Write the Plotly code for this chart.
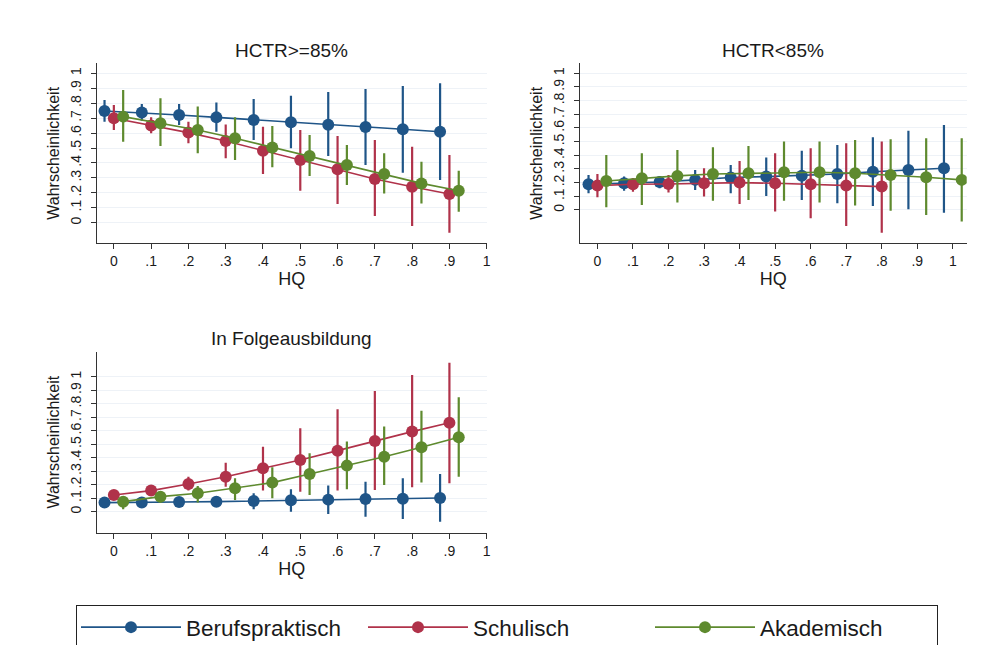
import plotly.graph_objects as go

series_names = ["Berufspraktisch", "Schulisch", "Akademisch"]
colors = ["#1f5588", "#b0324a", "#5e8a2e"]
dodge = [-0.025, 0.0, 0.025]

panel_titles = ["HCTR>=85%", "HCTR<85%", "In Folgeausbildung"]

y_tickvals = [0, .1, .2, .3, .4, .5, .6, .7, .8, .9, 1]
y_ticktext = ["0", ".1", ".2", ".3", ".4", ".5", ".6", ".7", ".8", ".9", "1"]
x_tickvals = [0, .1, .2, .3, .4, .5, .6, .7, .8, .9, 1]
x_ticktext = ["0", ".1", ".2", ".3", ".4", ".5", ".6", ".7", ".8", ".9", "1"]

hq10 = [0, .1, .2, .3, .4, .5, .6, .7, .8, .9]
hq11 = [0, .1, .2, .3, .4, .5, .6, .7, .8, .9, 1.0]
hq9 = [0, .1, .2, .3, .4, .5, .6, .7, .8]

# Panel 1: HCTR>=85%
p1_beruf_y = [0.748, 0.737, 0.721, 0.705, 0.688, 0.672, 0.656, 0.641, 0.625, 0.609]
p1_beruf_lo = [0.676, 0.683, 0.654, 0.609, 0.554, 0.498, 0.446, 0.386, 0.335, 0.286]
p1_beruf_hi = [0.821, 0.795, 0.795, 0.804, 0.828, 0.850, 0.875, 0.895, 0.915, 0.933]
p1_schul_y = [0.699, 0.650, 0.603, 0.547, 0.482, 0.420, 0.357, 0.292, 0.241, 0.192]
p1_schul_lo = [0.621, 0.598, 0.531, 0.431, 0.326, 0.214, 0.125, 0.045, -0.022, -0.067]
p1_schul_hi = [0.788, 0.705, 0.676, 0.658, 0.643, 0.621, 0.580, 0.554, 0.509, 0.453]
p1_akad_y = [0.710, 0.665, 0.621, 0.565, 0.504, 0.446, 0.386, 0.326, 0.263, 0.214]
p1_akad_lo = [0.542, 0.513, 0.464, 0.420, 0.371, 0.313, 0.252, 0.196, 0.129, 0.074]
p1_akad_hi = [0.888, 0.833, 0.777, 0.705, 0.647, 0.587, 0.520, 0.464, 0.408, 0.348]

# Panel 2: HCTR<85%
p2_beruf_y = [0.188, 0.195, 0.205, 0.220, 0.237, 0.244, 0.251, 0.263, 0.280, 0.293, 0.305]
p2_beruf_lo = [0.122, 0.141, 0.159, 0.146, 0.122, 0.102, 0.073, 0.049, 0.029, 0.005, -0.020]
p2_beruf_hi = [0.256, 0.244, 0.249, 0.293, 0.329, 0.383, 0.434, 0.476, 0.532, 0.580, 0.622]
p2_schul_y = [0.178, 0.188, 0.190, 0.195, 0.200, 0.195, 0.188, 0.178, 0.171]
p2_schul_lo = [0.093, 0.134, 0.127, 0.098, 0.044, -0.012, -0.061, -0.117, -0.166]
p2_schul_hi = [0.263, 0.232, 0.256, 0.305, 0.359, 0.415, 0.451, 0.488, 0.500]
p2_akad_y = [0.212, 0.232, 0.249, 0.263, 0.268, 0.276, 0.276, 0.268, 0.256, 0.239, 0.220]
p2_akad_lo = [0.020, 0.037, 0.054, 0.068, 0.073, 0.068, 0.054, 0.032, -0.005, -0.037, -0.085]
p2_akad_hi = [0.402, 0.415, 0.439, 0.459, 0.468, 0.500, 0.500, 0.512, 0.517, 0.524, 0.524]

# Panel 3: In Folgeausbildung
p3_beruf_y = [0.067, 0.067, 0.072, 0.074, 0.079, 0.084, 0.089, 0.094, 0.096, 0.101]
p3_beruf_lo = [0.037, 0.044, 0.042, 0.037, 0.017, 0.000, -0.017, -0.037, -0.054, -0.074]
p3_beruf_hi = [0.099, 0.094, 0.099, 0.111, 0.136, 0.165, 0.193, 0.222, 0.247, 0.279]
p3_schul_y = [0.123, 0.156, 0.205, 0.259, 0.321, 0.383, 0.452, 0.523, 0.593, 0.659]
p3_schul_lo = [0.091, 0.119, 0.156, 0.185, 0.156, 0.148, 0.156, 0.160, 0.180, 0.210]
p3_schul_hi = [0.148, 0.190, 0.259, 0.363, 0.481, 0.617, 0.758, 0.894, 1.012, 1.104]
p3_akad_y = [0.074, 0.111, 0.136, 0.173, 0.215, 0.279, 0.341, 0.407, 0.477, 0.551]
p3_akad_lo = [0.017, 0.067, 0.067, 0.086, 0.099, 0.123, 0.165, 0.198, 0.215, 0.259]
p3_akad_hi = [0.099, 0.148, 0.190, 0.247, 0.328, 0.432, 0.519, 0.630, 0.748, 0.847]

panels = [
    [(hq10, p1_beruf_y, p1_beruf_lo, p1_beruf_hi),
     (hq10, p1_schul_y, p1_schul_lo, p1_schul_hi),
     (hq10, p1_akad_y, p1_akad_lo, p1_akad_hi)],
    [(hq11, p2_beruf_y, p2_beruf_lo, p2_beruf_hi),
     (hq9, p2_schul_y, p2_schul_lo, p2_schul_hi),
     (hq11, p2_akad_y, p2_akad_lo, p2_akad_hi)],
    [(hq10, p3_beruf_y, p3_beruf_lo, p3_beruf_hi),
     (hq10, p3_schul_y, p3_schul_lo, p3_schul_hi),
     (hq10, p3_akad_y, p3_akad_lo, p3_akad_hi)],
]

W, H = 988, 645
FONT = "Liberation Sans, Arial, sans-serif"
TXT = "#1a1a1a"

# pixel layout of the plot areas: (left, right, top, bottom)
boxes = [(96.7, 486.7, 63.3, 243.3),
         (580.0, 966.7, 63.3, 243.3),
         (96.7, 486.7, 351.7, 532.7)]
xranges = [[-0.046, 1.0], [-0.049, 1.039], [-0.046, 1.0]]
yranges = [[-0.138, 1.067], [-0.244, 1.073], [-0.156, 1.185]]
title_y = [50, 50, 338]

fig = go.Figure()

for p, series in enumerate(panels):
    xa = "x" if p == 0 else f"x{p+1}"
    ya = "y" if p == 0 else f"y{p+1}"
    for s, (hq, yv, lo, hi) in enumerate(series):
        xs = [h + dodge[s] for h in hq]
        fig.add_trace(go.Scatter(
            x=xs, y=yv, mode="lines+markers",
            name=series_names[s], legendgroup=series_names[s],
            showlegend=(p == 0),
            line=dict(color=colors[s], width=1.6),
            marker=dict(color=colors[s], size=12),
            error_y=dict(type="data", symmetric=False,
                         array=[h_ - v for h_, v in zip(hi, yv)],
                         arrayminus=[v - l for v, l in zip(yv, lo)],
                         color=colors[s], thickness=2.2, width=0),
            xaxis=xa, yaxis=ya,
        ))

layout = dict(
    width=W, height=H,
    margin=dict(l=0, r=0, t=0, b=0, autoexpand=False),
    paper_bgcolor="white", plot_bgcolor="white",
    font=dict(family=FONT, color=TXT, size=14),
    showlegend=True,
    legend=dict(orientation="h", x=76 / W, xanchor="left", y=1 - 605 / H, yanchor="top",
                bordercolor="#222", borderwidth=1, bgcolor="white",
                font=dict(size=22.5, family=FONT, color=TXT),
                itemwidth=100, entrywidth=172, entrywidthmode="pixels",
                tracegroupgap=0),
)

annotations = []
for p in range(3):
    l, r, t, b = boxes[p]
    key = "" if p == 0 else str(p + 1)
    layout["xaxis" + key] = dict(
        domain=[l / W, r / W], range=xranges[p], anchor="y" + key,
        tickmode="array", tickvals=x_tickvals, ticktext=x_ticktext,
        ticks="outside", ticklen=5, tickwidth=1, tickcolor="#333",
        showline=True, linecolor="#333", linewidth=1.2,
        showgrid=False, zeroline=False,
        tickfont=dict(size=14), title=dict(text="HQ", font=dict(size=18), standoff=1),
    )
    layout["yaxis" + key] = dict(
        domain=[1 - b / H, 1 - t / H], range=yranges[p], anchor="x" + key,
        tickmode="array", tickvals=y_tickvals, ticktext=y_ticktext, tickangle=-90,
        ticks="outside", ticklen=5, tickwidth=1, tickcolor="#333",
        showline=True, linecolor="#333", linewidth=1.2,
        showgrid=True, gridcolor="#eef2f7", gridwidth=1, zeroline=False,
        ticklabelstandoff=4,
        tickfont=dict(size=14), title=dict(text="Wahrscheinlichkeit", font=dict(size=16), standoff=4),
    )
    annotations.append(dict(
        text=panel_titles[p], x=(l + r) / 2 / W, y=1 - title_y[p] / H,
        xref="paper", yref="paper", xanchor="center", yanchor="middle",
        showarrow=False, font=dict(size=19, family=FONT, color=TXT),
    ))
layout["annotations"] = annotations
fig.update_layout(**layout)

fig.write_html("out.html")
